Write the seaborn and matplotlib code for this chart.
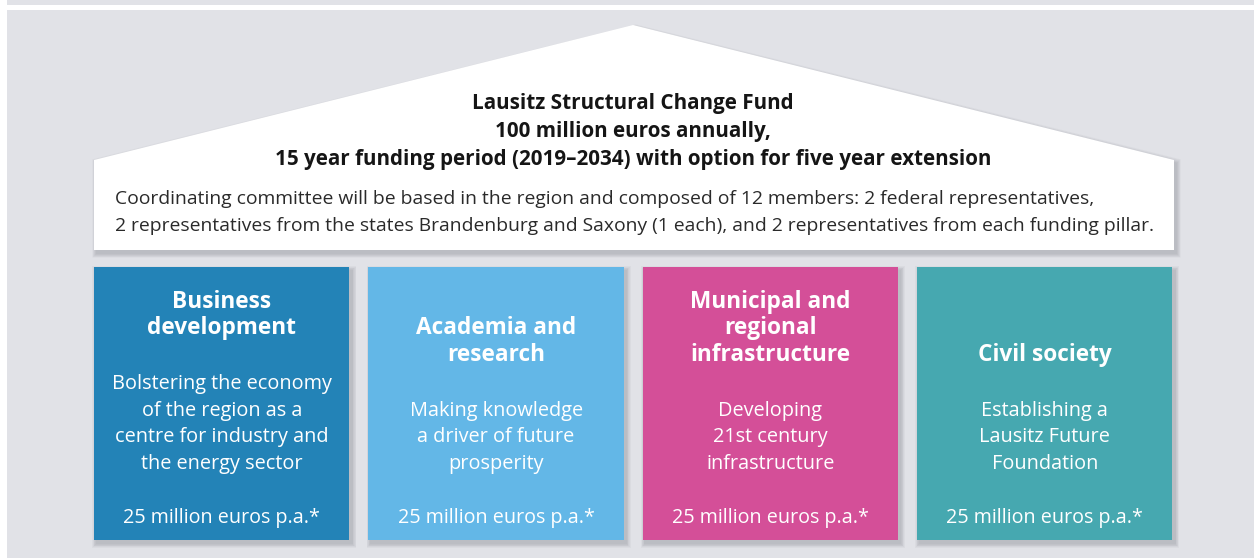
import matplotlib
matplotlib.use("Agg")
import matplotlib.pyplot as plt
import matplotlib.transforms as mtransforms
from matplotlib.patches import Rectangle, Polygon
import seaborn as sns
import pandas as pd

# ---------------- data ----------------
fund_title = ["Lausitz Structural Change Fund",
              "100 million euros annually,",
              "15 year funding period (2019\u20132034) with option for five year extension"]
committee_text = ["Coordinating committee will be based in the region and composed of 12 members: 2 federal representatives,",
                  "2 representatives from the states Brandenburg and Saxony (1 each), and 2 representatives from each funding pillar."]
pillars = ["Business development", "Academia and research",
           "Municipal and regional infrastructure", "Civil society"]
pillar_titles = [["Business", "development"],
                 ["Academia and", "research"],
                 ["Municipal and", "regional", "infrastructure"],
                 ["Civil society"]]
pillar_desc = [["Bolstering the economy", "of the region as a", "centre for industry and", "the energy sector"],
               ["Making knowledge", "a driver of future", "prosperity"],
               ["Developing", "21st century", "infrastructure"],
               ["Establishing a", "Lausitz Future", "Foundation"]]
pillar_amount = [25, 25, 25, 25]
pillar_colors = ["#2383B7", "#63B7E7", "#D44F98", "#46A8B0"]

# ---------------- style ----------------
sns.set_theme(style="white")
FONT = ["Open Sans", "DejaVu Sans"]
plt.rcParams["font.family"] = FONT

W, H = 1254, 558
fig = plt.figure(figsize=(W / 100, H / 100), dpi=100)
fig.patch.set_facecolor("white")
ax = fig.add_axes([0, 0, 1, 1])
ax.set_xlim(0, W)
ax.set_ylim(H, 0)
ax.axis("off")

BG = "#E1E2E7"
ax.add_patch(Rectangle((7, 0), W - 7, 5, color=BG, lw=0, zorder=0))
ax.add_patch(Rectangle((7, 10), W - 7, H - 10, color=BG, lw=0, zorder=0))

def soft_shadow(make_patch, dx=2.5, dy=3.5, layers=6, alpha=0.045):
    for i in range(layers, 0, -1):
        p = make_patch(dx, dy, i)
        p.set_facecolor("#4a4f5a")
        p.set_alpha(alpha)
        p.set_linewidth(0)
        p.set_zorder(1)
        ax.add_patch(p)

# house
house = [(94, 160), (633, 25), (1174, 160), (1174, 250), (94, 250)]
def house_shadow(dx, dy, i):
    g = i * 0.7
    pts = [(94 + dx - g, 160 + dy - g), (633 + dx, 25 + dy - g), (1174 + dx + g, 160 + dy - g),
           (1174 + dx + g, 250 + dy + g), (94 + dx - g, 250 + dy + g)]
    return Polygon(pts, closed=True)
soft_shadow(house_shadow)
ax.add_patch(Polygon(house, closed=True, facecolor="white", lw=0, zorder=2))

title_y = [104, 132, 160]
for s, y in zip(fund_title, title_y):
    ax.text(633, y, s, ha="center", va="center", fontsize=14.9, fontweight="bold",
            color="#151515", zorder=5)
body_y = [199, 226]
for s, y in zip(committee_text, body_y):
    ax.text(115, y, s, ha="left", va="center", fontsize=13.9, color="#2a2a2a", zorder=5)

# pillars via seaborn barplot
step = 274.33
bw = 255.5
x0 = 94 + bw / 2 - step / 2
top, bot = 267, 540
axp = fig.add_axes([x0 / W, (H - bot) / H, 4 * step / W, (bot - top) / H])
axp.patch.set_alpha(0)
axp.set_zorder(3)
df = pd.DataFrame({"pillar": pillars, "amount": pillar_amount})
sns.barplot(data=df, x="pillar", y="amount", hue="pillar", palette=pillar_colors,
            saturation=1, width=bw / step, legend=False, ax=axp, linewidth=0)
axp.set_xlim(-0.5, 3.5)
axp.set_ylim(0, max(pillar_amount))
axp.axis("off")

# shadows for pillars (drawn on the main axes)
for k in range(len(pillars)):
    lx = 94 + k * step
    def rshadow(dx, dy, i, lx=lx):
        g = i * 0.7
        return Rectangle((lx + dx - g, top + dy - g), bw + 2 * g, bot - top + 2 * g)
    soft_shadow(rshadow)

tr = mtransforms.blended_transform_factory(axp.transData, ax.transData)
line = 26.7
for k in range(len(pillars)):
    desc = pillar_desc[k]
    d_first = 464 - line * (len(desc) - 1)
    for j, s in enumerate(desc):
        axp.text(k, d_first + j * line, s, transform=tr, ha="center", va="center",
                 fontsize=14.3, color="white", zorder=6)
    tl = pillar_titles[k]
    t_last = d_first - 55.5
    for j, s in enumerate(tl):
        axp.text(k, t_last - (len(tl) - 1 - j) * line, s, transform=tr, ha="center",
                 va="center", fontsize=16.3, fontweight="bold", color="white", zorder=6)
    axp.text(k, 518, f"{pillar_amount[k]} million euros p.a.*", transform=tr,
             ha="center", va="center", fontsize=14.2, color="white", zorder=6)

fig.savefig("out.png", dpi=100)
